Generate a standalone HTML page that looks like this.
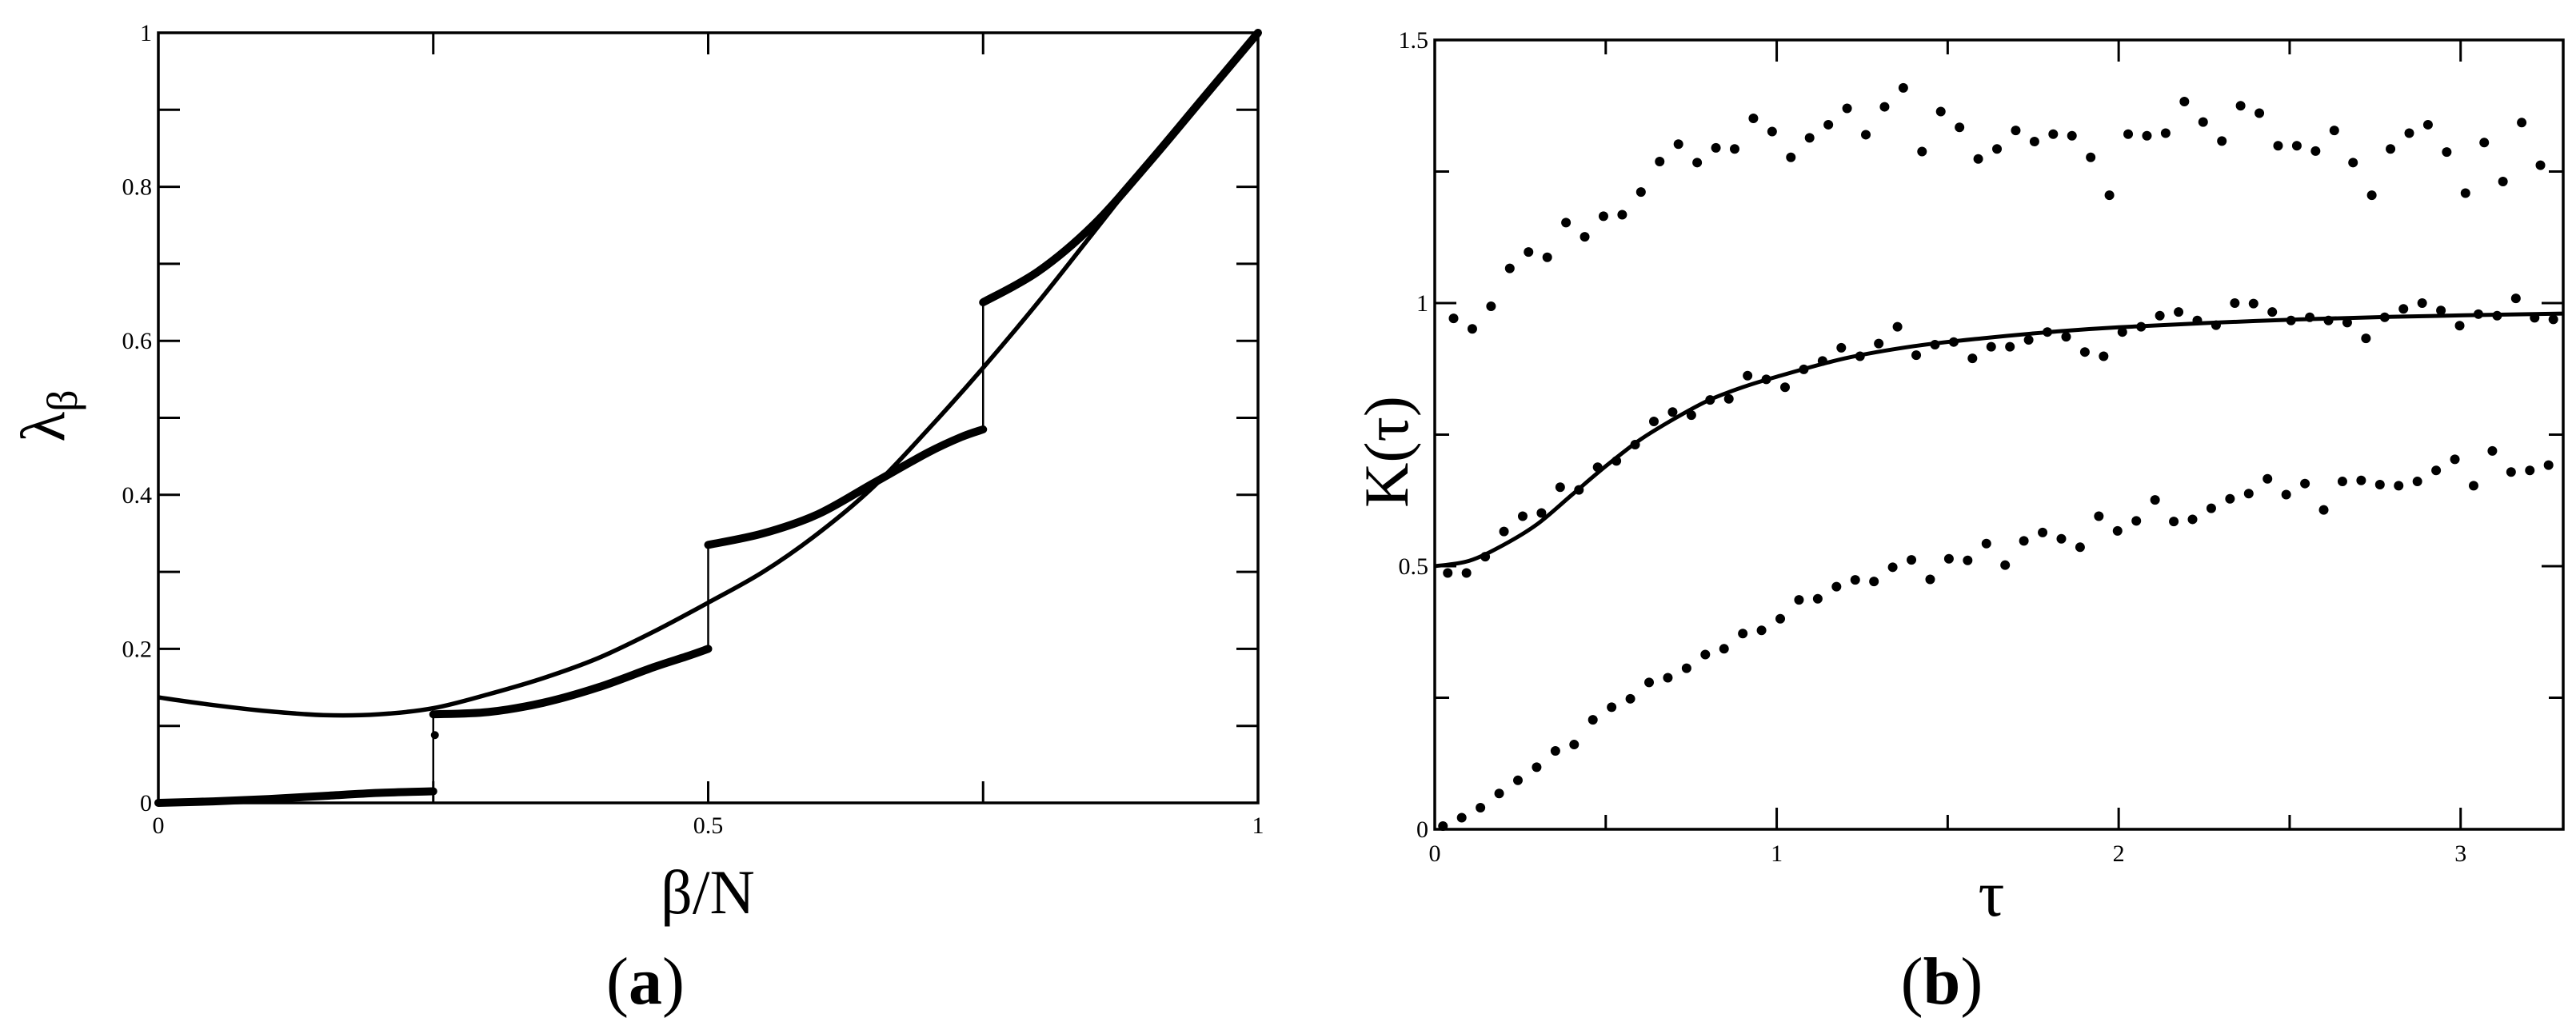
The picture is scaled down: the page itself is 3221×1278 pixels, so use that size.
<!DOCTYPE html>
<html><head><meta charset="utf-8"><style>
html,body{margin:0;padding:0;background:#fff;}
svg{display:block;}
text{font-family:"Liberation Serif",serif;fill:#000;}
</style></head><body>
<svg id="fig" width="3221" height="1278" viewBox="0 0 3221 1278" xmlns="http://www.w3.org/2000/svg">
<g id="pa"></g>
<g id="pb"></g>
<text x="807" y="1255" font-size="84" text-anchor="middle">(<tspan font-weight="bold">a</tspan>)</text>
<text x="2428" y="1255" font-size="84" text-anchor="middle">(<tspan font-weight="bold">b</tspan>)</text>
<text x="885" y="1142" font-size="78" text-anchor="middle">β/N</text>
<text transform="translate(80,520) rotate(-90)" font-size="78" text-anchor="middle">λ<tspan font-size="54" dy="16">β</tspan></text>
<text x="2490" y="1145" font-size="82" text-anchor="middle">τ</text>
<text transform="translate(1760,565) rotate(-90)" font-size="78" text-anchor="middle">K(τ)</text>
</svg>
<script>
// ---------- Panel (a) data ----------
const curveX = [0,0.05,0.1,0.15,0.2,0.25,0.3,0.35,0.4,0.45,0.5,0.55,0.6,0.65,0.7,0.75,0.8,0.85,0.9,0.95,1];
const curveY = [0.137,0.127,0.119,0.114,0.115,0.123,0.141,0.162,0.188,0.222,0.26,0.30,0.35,0.41,0.485,0.565,0.65,0.74,0.83,0.915,1];
const seg1X = [0,0.05,0.1,0.15,0.2,0.25];
const seg1Y = [0,0.002,0.005,0.009,0.013,0.015];
const seg2X = [0.25,0.3,0.35,0.4,0.45,0.48,0.5];
const seg2Y = [0.115,0.118,0.13,0.15,0.176,0.19,0.2];
const seg3X = [0.5,0.55,0.6,0.65,0.7,0.73,0.75];
const seg3Y = [0.335,0.35,0.375,0.415,0.455,0.475,0.485];
const seg4X = [0.75,0.8,0.85,0.9,0.95,1];
const seg4Y = [0.65,0.69,0.75,0.83,0.915,1];
const jumpX = [0.25,0.5,0.75];
const jumpLo = [0.015,0.2,0.485];
const jumpHi = [0.115,0.335,0.65];
const aXTicks = [0,0.5,1];
const aXTickLabels = ["0","0.5","1"];
const aYTicks = [0,0.2,0.4,0.6,0.8,1];
const aYTickLabels = ["0","0.2","0.4","0.6","0.8","1"];

// ---------- Panel (b) data ----------
const tauStep = 0.0548;
const upperStart = 0.055, middleStart = 0.038, lowerStart = 0.024;
const upperK = [0.971,0.951,0.994,1.066,1.097,1.087,1.153,1.126,1.165,1.168,1.211,1.269,1.302,1.267,1.295,1.293,1.351,1.326,1.277,1.314,1.339,1.370,1.320,1.373,1.409,1.288,1.364,1.334,1.274,1.293,1.328,1.307,1.321,1.318,1.277,1.205,1.321,1.318,1.323,1.383,1.344,1.308,1.375,1.361,1.299,1.299,1.289,1.328,1.267,1.205,1.293,1.323,1.339,1.287,1.209,1.305,1.231,1.343,1.262];
const middleK = [0.487,0.487,0.518,0.566,0.595,0.601,0.650,0.645,0.688,0.700,0.731,0.775,0.793,0.787,0.816,0.818,0.862,0.855,0.840,0.874,0.890,0.915,0.899,0.923,0.955,0.901,0.921,0.926,0.895,0.917,0.917,0.930,0.945,0.936,0.907,0.899,0.945,0.955,0.976,0.983,0.967,0.958,1.000,0.999,0.983,0.967,0.973,0.967,0.963,0.933,0.973,0.989,1.000,0.986,0.957,0.979,0.976,1.009,0.972,0.969];
const lowerK = [0.006,0.022,0.041,0.068,0.093,0.118,0.149,0.161,0.208,0.232,0.248,0.279,0.288,0.306,0.332,0.343,0.372,0.378,0.400,0.436,0.438,0.461,0.474,0.471,0.498,0.512,0.475,0.514,0.511,0.543,0.502,0.548,0.564,0.552,0.536,0.595,0.567,0.586,0.626,0.585,0.589,0.610,0.628,0.638,0.666,0.636,0.657,0.607,0.661,0.663,0.655,0.653,0.661,0.682,0.703,0.653,0.719,0.679,0.682,0.692];
const fitTau = [0,0.1,0.2,0.3,0.4,0.5,0.6,0.7,0.8,0.9,1.0,1.2,1.4,1.6,1.8,2.0,2.4,2.8,3.3];
const fitK = [0.5,0.51,0.54,0.58,0.635,0.69,0.74,0.78,0.815,0.84,0.86,0.895,0.918,0.933,0.945,0.954,0.966,0.974,0.98];
const bXTicks = [0,1,2,3];
const bXTickLabels = ["0","1","2","3"];
const bYTicks = [0,0.5,1,1.5];
const bYTickLabels = ["0","0.5","1","1.5"];

const NS = "http://www.w3.org/2000/svg";
function mk(parent, tag, attrs){const e=document.createElementNS(NS,tag);for(const k in attrs)e.setAttribute(k,attrs[k]);parent.appendChild(e);return e;}
function smoothPath(pts){
  let d="M"+pts[0][0]+","+pts[0][1];
  for(let i=0;i<pts.length-1;i++){
    const p0=pts[Math.max(0,i-1)],p1=pts[i],p2=pts[i+1],p3=pts[Math.min(pts.length-1,i+2)];
    const c1=[p1[0]+(p2[0]-p0[0])/6,p1[1]+(p2[1]-p0[1])/6];
    const c2=[p2[0]-(p3[0]-p1[0])/6,p2[1]-(p3[1]-p1[1])/6];
    d+=" C"+c1[0]+","+c1[1]+" "+c2[0]+","+c2[1]+" "+p2[0]+","+p2[1];
  }
  return d;
}

// ---------- Panel (a) ----------
(function(){
  const g=document.getElementById('pa');
  const L=198,R=1573,T=41,B=1004;
  const sx=v=>L+(R-L)*v, sy=v=>B-(B-T)*v;
  [0.25,0.5,0.75].forEach(v=>{
    const t1=mk(g,'line',{x1:sx(v),x2:sx(v),y1:B,y2:B-27,stroke:'#000','stroke-width':3});
    
    
    const t2=mk(g,'line',{x1:sx(v),x2:sx(v),y1:T,y2:T+27,stroke:'#000','stroke-width':3});
    
    
  });
  for(let i=1;i<10;i++){
    const v=i/10;
    const t1=mk(g,'line',{x1:L,x2:L+27,y1:sy(v),y2:sy(v),stroke:'#000','stroke-width':3});
    
    
    const t2=mk(g,'line',{x1:R,x2:R-27,y1:sy(v),y2:sy(v),stroke:'#000','stroke-width':3});
    
    
  }
  aXTicks.forEach((v,i)=>{
    const t=mk(g,'text',{x:sx(v),y:B+38,'font-size':30,'text-anchor':'middle'});
    t.textContent=aXTickLabels[i];
    
    
  });
  aYTicks.forEach((v,i)=>{
    const t=mk(g,'text',{x:L-8,y:sy(v)+10,'font-size':30,'text-anchor':'end'});
    t.textContent=aYTickLabels[i];
    
    
  });
  jumpX.forEach((v,i)=>{
    const j=mk(g,'line',{x1:sx(v),x2:sx(v),y1:sy(jumpLo[i]),y2:sy(jumpHi[i]),stroke:'#000','stroke-width':2.5});
    
    
  });
  const jd=mk(g,'circle',{cx:sx(jumpX[0])+2,cy:sy(0.088),r:5,fill:'#000'});
  
  
  const cp=mk(g,'path',{d:smoothPath(curveX.map((x,i)=>[sx(x),sy(curveY[i])])),fill:'none',stroke:'#000','stroke-width':5.5});
  
  
  [[seg1X,seg1Y],[seg2X,seg2Y],[seg3X,seg3Y],[seg4X,seg4Y]].forEach((s,k)=>{
    const p=mk(g,'path',{d:smoothPath(s[0].map((x,i)=>[sx(x),sy(s[1][i])])),fill:'none',stroke:'#000','stroke-width':10,'stroke-linecap':'round'});
    
    
  });
  const fr=mk(g,'rect',{x:L,y:T,width:R-L,height:B-T,fill:'none',stroke:'#000','stroke-width':3.5});
  
  
})();

// ---------- Panel (b) ----------
(function(){
  const g=document.getElementById('pb');
  const L=1794,R=3205,T=50,B=1037,XMAX=3.3,YMAX=1.5;
  const sx=v=>L+(R-L)*v/XMAX, sy=v=>B-(B-T)*v/YMAX;
  for(let v=0.5;v<XMAX;v+=0.5){
    const major=Math.abs(v-Math.round(v))<1e-6, len=major?27:18;
    const t1=mk(g,'line',{x1:sx(v),x2:sx(v),y1:B,y2:B-len,stroke:'#000','stroke-width':3});
    
    
    const t2=mk(g,'line',{x1:sx(v),x2:sx(v),y1:T,y2:T+len,stroke:'#000','stroke-width':3});
    
    
  }
  for(let i=1;i<6;i++){
    const v=i*0.25, len=(i%2===0)?27:18;
    const t1=mk(g,'line',{x1:L,x2:L+len,y1:sy(v),y2:sy(v),stroke:'#000','stroke-width':3});
    
    
    const t2=mk(g,'line',{x1:R,x2:R-len,y1:sy(v),y2:sy(v),stroke:'#000','stroke-width':3});
    
    
  }
  bXTicks.forEach((v,i)=>{
    const t=mk(g,'text',{x:sx(v),y:B+40,'font-size':30,'text-anchor':'middle'});
    t.textContent=bXTickLabels[i];
    
    
  });
  bYTicks.forEach((v,i)=>{
    const t=mk(g,'text',{x:L-8,y:sy(v)+10,'font-size':30,'text-anchor':'end'});
    t.textContent=bYTickLabels[i];
    
    
  });
  const fp=mk(g,'path',{d:smoothPath(fitTau.map((x,i)=>[sx(x),sy(fitK[i])])),fill:'none',stroke:'#000','stroke-width':5});
  
  
  [[upperK,upperStart,'upper'],[middleK,middleStart,'middle'],[lowerK,lowerStart,'lower']].forEach(s=>{
    s[0].forEach((k,i)=>{
      const c=mk(g,'circle',{cx:sx(s[1]+i*tauStep),cy:sy(k),r:6,fill:'#000'});
      
      
    });
  });
  const fr=mk(g,'rect',{x:L,y:T,width:R-L,height:B-T,fill:'none',stroke:'#000','stroke-width':3.5});
  
  
})();
</script>
</body></html>
